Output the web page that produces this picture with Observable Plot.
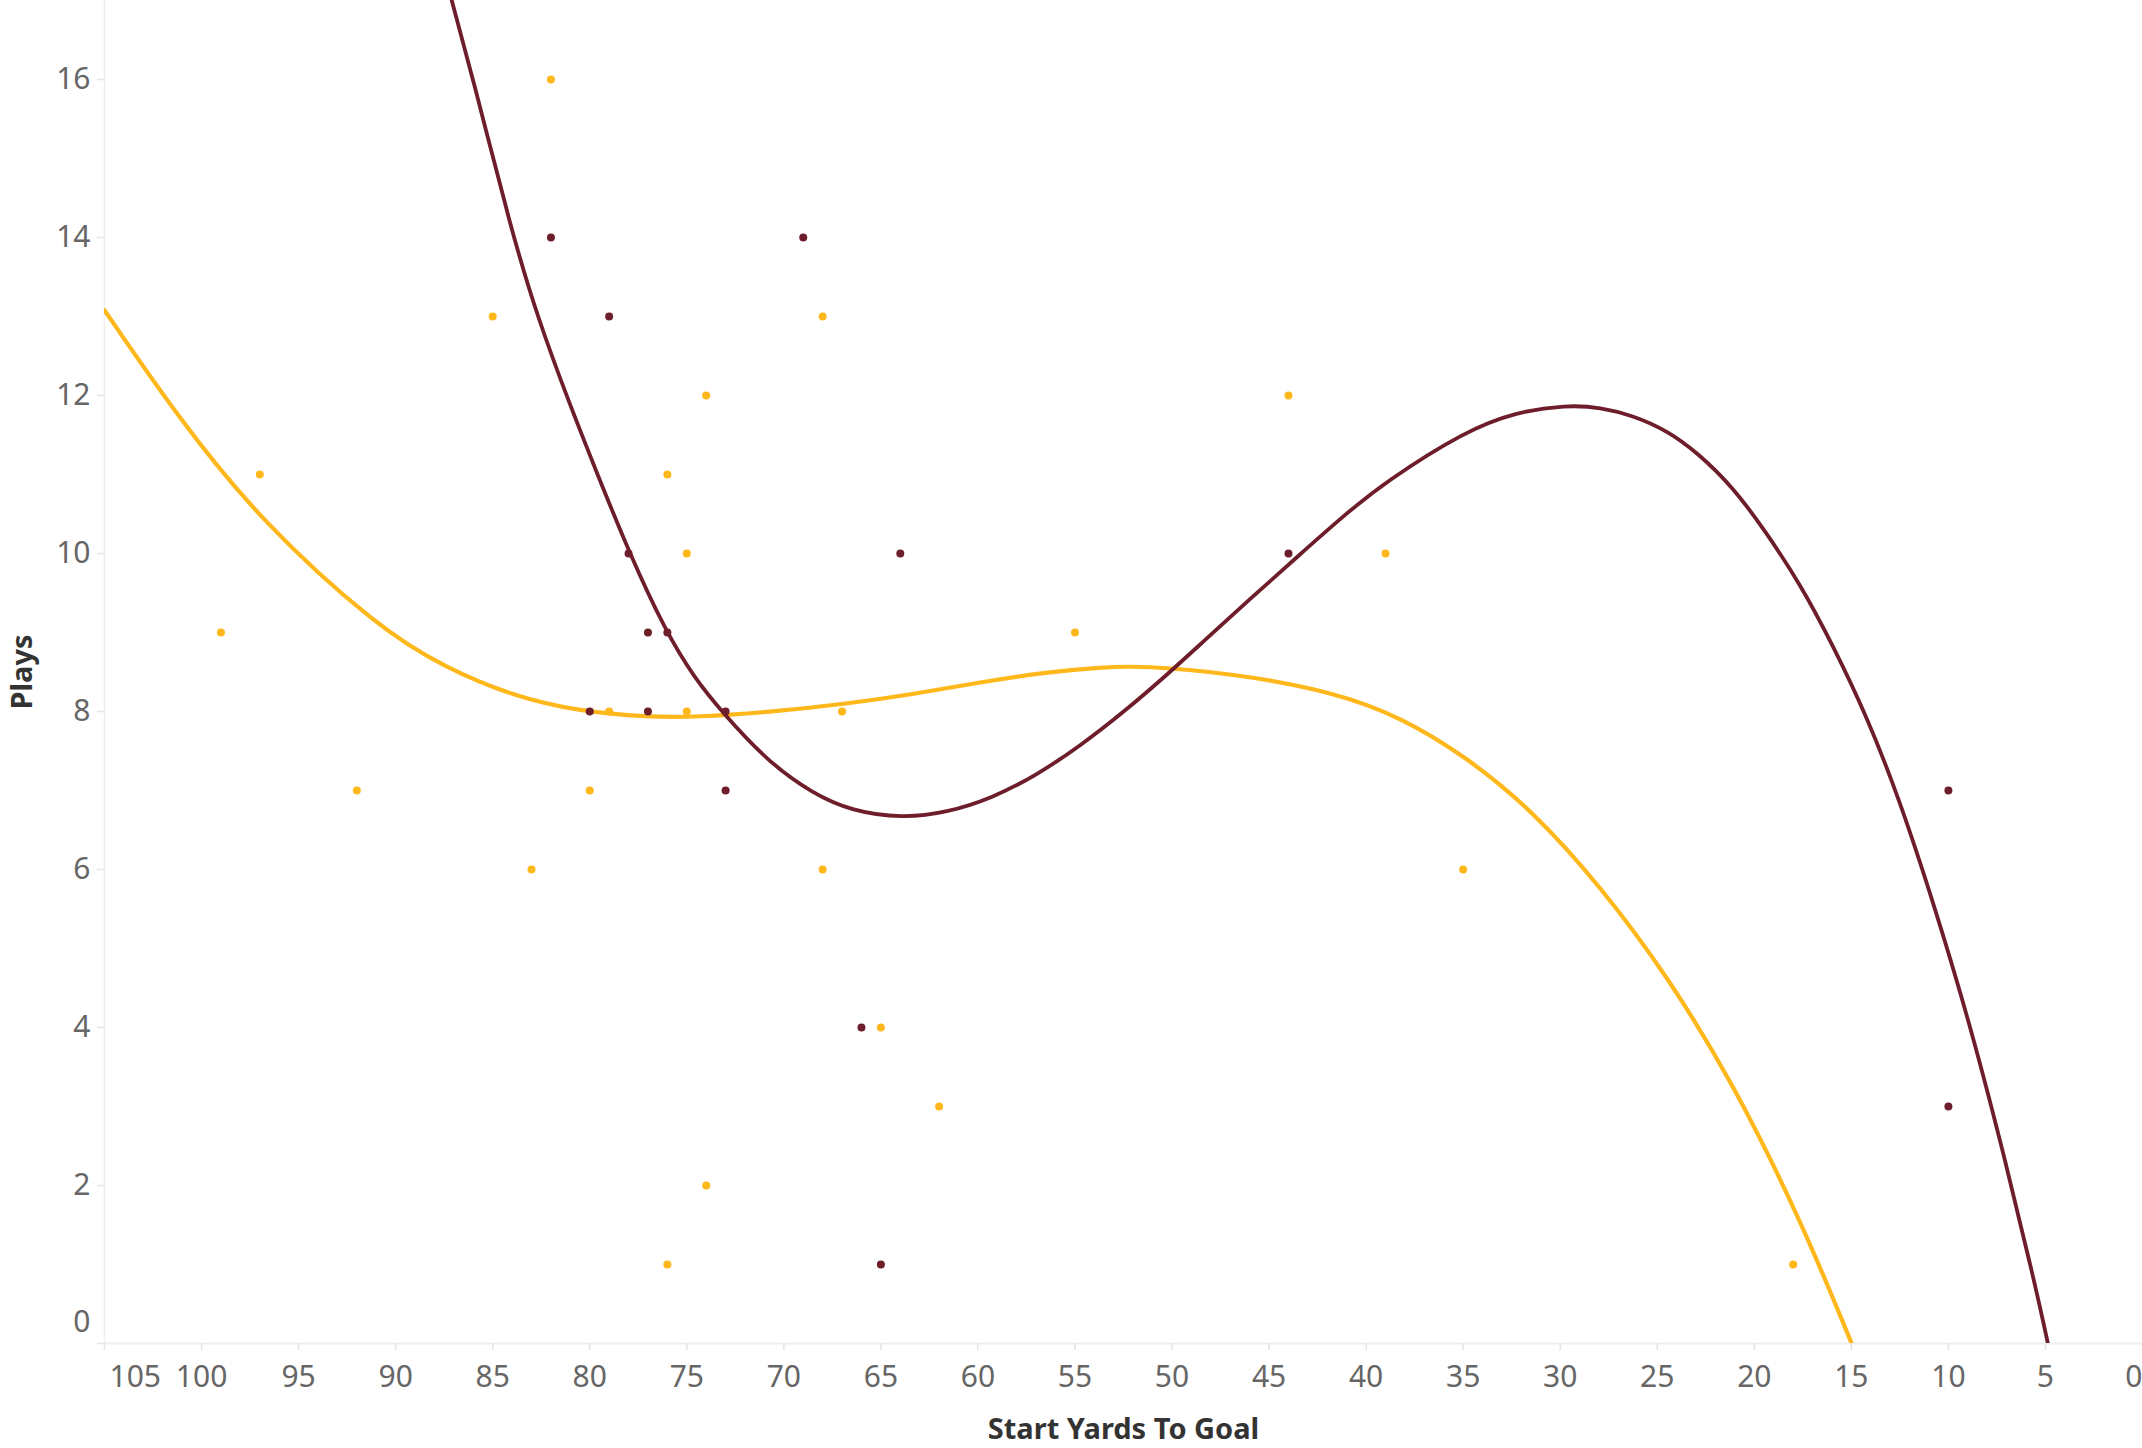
<!DOCTYPE html>
<html>
<head>
<meta charset="utf-8">
<script src="https://cdn.jsdelivr.net/npm/d3@7"></script>
<script src="https://cdn.jsdelivr.net/npm/@observablehq/plot@0.6"></script>
<style>
  html, body { margin: 0; padding: 0; background: #ffffff; }
  #chart { width: 2142px; height: 1448px; overflow: hidden; }
</style>
</head>
<body>
<div id="chart"></div>
<script>
// ---- data ----
const goldYards  = [82, 85, 97, 99, 92, 83, 80, 79, 76, 74, 75, 75, 68, 67, 68, 65, 62, 74, 76, 55, 44, 39, 35, 18];
const goldPlays  = [16, 13, 11,  9,  7,  6,  7,  8, 11, 12, 10,  8, 13,  8,  6,  4,  3,  2,  1,  9, 12, 10,  6,  1];

const maroonYards = [82, 79, 69, 78, 64, 77, 76, 80, 77, 73, 73, 66, 65, 44, 10, 10];
const maroonPlays = [14, 13, 14, 10, 10,  9,  9,  8,  8,  8,  7,  4,  1, 10,  7,  3];

// trend lines (polynomial trend as drawn in the reference)
const goldTrendX = [105, 101.2, 97, 90.8, 87.4, 83.9, 80.5, 77, 74.5, 70.8, 66.7, 63.3, 59.9, 56.4, 53.7, 51.5, 46.8, 41.7, 38.2, 34.8, 31.4, 27.9, 24.5, 21.1, 17.6, 15.05, 14.7];
const goldTrendY = [13.08, 11.72, 10.42, 9.04, 8.55, 8.19, 8.0, 7.93, 7.93, 7.99, 8.10, 8.22, 8.37, 8.50, 8.56, 8.58, 8.48, 8.25, 7.93, 7.42, 6.74, 5.78, 4.66, 3.30, 1.56, 0.04, -0.17];

const maroonTrendX = [87.6, 86.0, 84.0, 82.7, 81.1, 79.6, 77.95, 76.1, 74.6, 73.1, 70.8, 68.5, 66.5, 63.9, 61.6, 59.3, 57.0, 54.7, 52.4, 50.1, 48.5, 46.0, 43.4, 41.2, 39.0, 34.9, 32.3, 29.7, 27.9, 26.3, 24.5, 22.9, 21.1, 19.45, 17.6, 16.0, 14.2, 12.5, 10.8, 9.0, 7.3, 5.6, 4.87, 4.6];
const maroonTrendY = [17.45, 16.0, 14.05, 13.0, 11.93, 11.0, 10.0, 9.02, 8.42, 7.97, 7.36, 6.96, 6.74, 6.65, 6.72, 6.90, 7.19, 7.57, 8.01, 8.50, 8.86, 9.42, 9.99, 10.47, 10.91, 11.55, 11.79, 11.88, 11.85, 11.75, 11.56, 11.27, 10.84, 10.29, 9.60, 8.86, 7.94, 6.87, 5.60, 4.14, 2.55, 0.82, 0.0, -0.32];

const xTicks = [105, 100, 95, 90, 85, 80, 75, 70, 65, 60, 55, 50, 45, 40, 35, 30, 25, 20, 15, 10, 5, 0];
const yTicks = [0, 2, 4, 6, 8, 10, 12, 14, 16];
const xDomain = [105, 0];
const yDomain = [0, 17];

const xTitle = "Start Yards To Goal";
const yTitle = "Plays";

const GOLD = "#FFB81C";
const MAROON = "#6E1D2B";

// ---- tables built from the arrays ----
const goldPts = goldYards.map((x, i) => ({x, y: goldPlays[i]}));
const maroonPts = maroonYards.map((x, i) => ({x, y: maroonPlays[i]}));
const goldTrend = goldTrendX.map((x, i) => ({x, y: goldTrendY[i]}));
const maroonTrend = maroonTrendX.map((x, i) => ({x, y: maroonTrendY[i]}));

const xFirst = xTicks[0], xLast = xTicks[xTicks.length - 1];
const xMid = xTicks.slice(1, -1);
const yZero = yTicks[0];
const yRest = yTicks.slice(1);

const FONT = "'Noto Sans', 'Open Sans', sans-serif";
const TICK_GRAY = "#e4e4e4";
const LABEL_GRAY = "#666666";
const fmt = d => String(d);

const chart = Plot.plot({
  width: 2142,
  height: 1448,
  marginLeft: 104,
  marginRight: 0,
  marginTop: 0,
  marginBottom: 105,
  style: {fontFamily: FONT, fontSize: "30px", background: "#ffffff", color: LABEL_GRAY, overflow: "visible"},
  x: {domain: xDomain, label: null},
  y: {domain: yDomain, label: null},
  marks: [
    // pane borders
    Plot.ruleX([xDomain[0]], {stroke: "#efefef", strokeWidth: 1.5}),
    Plot.ruleY([yDomain[0]], {stroke: "#eeeeee", strokeWidth: 2}),
    // tick marks
    Plot.axisY(yTicks, {tickSize: 7, tickFormat: () => "", stroke: TICK_GRAY, strokeWidth: 1.5, label: null}),
    Plot.axisX(xTicks, {tickSize: 7, tickFormat: () => "", stroke: TICK_GRAY, strokeWidth: 1.5, label: null}),
    // tick labels
    Plot.axisY(yRest, {tickSize: 0, tickPadding: 14, tickFormat: fmt, fill: LABEL_GRAY, fontSize: 30, label: null}),
    Plot.axisY([yZero], {tickSize: 0, tickPadding: 14, tickFormat: fmt, fill: LABEL_GRAY, fontSize: 30, dy: -21, label: null}),
    Plot.axisX(xMid, {tickSize: 0, tickPadding: 22, tickFormat: fmt, fill: LABEL_GRAY, fontSize: 30, label: null}),
    Plot.axisX([xFirst], {tickSize: 0, tickPadding: 22, tickFormat: fmt, fill: LABEL_GRAY, fontSize: 30, textAnchor: "start", dx: 5, label: null}),
    Plot.axisX([xLast], {tickSize: 0, tickPadding: 22, tickFormat: fmt, fill: LABEL_GRAY, fontSize: 30, textAnchor: "end", dx: 0, label: null}),
    // trend lines
    Plot.line(goldTrend, {x: "x", y: "y", stroke: GOLD, strokeWidth: 4.2, curve: "basis", clip: true}),
    Plot.line(maroonTrend, {x: "x", y: "y", stroke: MAROON, strokeWidth: 3.8, curve: "basis", clip: true}),
    // points
    Plot.dot(goldPts, {x: "x", y: "y", r: 4, fill: GOLD, stroke: null}),
    Plot.dot(maroonPts, {x: "x", y: "y", r: 4, fill: MAROON, stroke: null}),
    // axis titles
    Plot.text([yTitle], {frameAnchor: "left", dx: -82, rotate: -90, textAnchor: "middle", fontWeight: "bold", fontSize: 29, fill: "#333333"}),
    Plot.text([xTitle], {frameAnchor: "bottom", dy: 95, fontWeight: "bold", fontSize: 29, fill: "#333333"})
  ]
});

document.getElementById("chart").appendChild(chart);
</script>
</body>
</html>
